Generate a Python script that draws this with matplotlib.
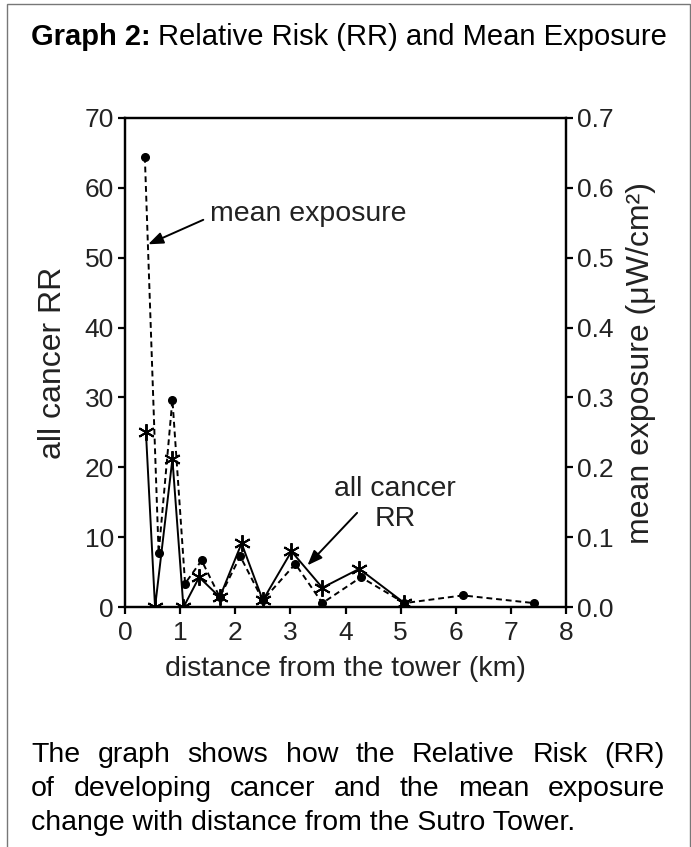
import matplotlib
matplotlib.use("Agg")
import matplotlib.pyplot as plt
from matplotlib.patches import Rectangle

plt.rcParams['font.family'] = ['Liberation Sans', 'DejaVu Sans']

# mean exposure (right axis, uW/cm2)
exp_dist = [0.36, 0.61, 0.86, 1.09, 1.39, 1.72, 2.09, 2.50, 3.09, 3.58, 4.28, 5.07, 6.13, 7.42]
exp_val = [0.644, 0.077, 0.297, 0.034, 0.067, 0.0145, 0.073, 0.010, 0.062, 0.006, 0.043, 0.006, 0.017, 0.006]

# all cancer RR (left axis)
rr_dist = [0.38, 0.545, 0.86, 1.06, 1.345, 1.72, 2.115, 2.50, 3.02, 3.58, 4.25, 5.07]
rr_val = [25.0, 0.0, 21.2, 0.0, 4.3, 1.45, 9.15, 1.0, 8.0, 2.8, 5.5, 0.6]

x_ticks = [0, 1, 2, 3, 4, 5, 6, 7, 8]
rr_ticks = [0, 10, 20, 30, 40, 50, 60, 70]
exp_ticks = [0.0, 0.1, 0.2, 0.3, 0.4, 0.5, 0.6, 0.7]

W, H = 691, 847
fig = plt.figure(figsize=(W / 100, H / 100), dpi=100)

# outer frame
fig.patches.append(Rectangle((6.7 / W, -0.01), (689.5 - 6.7) / W, 1.01 - 4 / H,
                             transform=fig.transFigure, fill=False,
                             edgecolor='#777777', lw=1.0))

ax = fig.add_axes([125 / W, 1 - 607.3 / H, (566 - 125) / W, (607.3 - 117.7) / H])
ax2 = ax.twinx()

ax.plot(rr_dist, rr_val, color='black', lw=1.4, marker=(6, 2, 0),
        markersize=12, markeredgewidth=1.4, zorder=3)
ax2.plot(exp_dist, exp_val, color='black', lw=1.4, ls=(0, (3, 2)),
         marker='o', markersize=5.5, zorder=3)

ax.set_xlim(0, 8)
ax.set_ylim(0, 70)
ax2.set_ylim(0, 0.7)
ax.set_xticks(x_ticks)
ax.set_yticks(rr_ticks)
ax2.set_yticks(exp_ticks)
ax2.set_yticklabels([f"{v:.1f}" for v in exp_ticks])

for a in (ax, ax2):
    for s in a.spines.values():
        s.set_linewidth(1.6)
    a.tick_params(direction='out', length=5, width=1.6, labelsize=19,
                  labelcolor='#222222', pad=3)
ax.tick_params(axis='x', pad=5)

lab_col = '#222222'
ax.set_xlabel("distance from the tower (km)", fontsize=20.5, color=lab_col, va='center')
ax.xaxis.set_label_coords(0.5, -0.125)
ax.set_ylabel("all cancer RR", fontsize=23, color=lab_col, va='center')
ax.yaxis.set_label_coords((53 - 125) / 441, 0.5)
ax2.set_ylabel("mean exposure (μW/cm²)", fontsize=23, color=lab_col, va='center')
ax2.yaxis.set_label_coords((641 - 125) / 441, 0.5)

# annotations
ax.text(1.55, 56.3, "mean exposure", fontsize=20.5, color=lab_col, va='center', ha='left')
ax.annotate('', xy=(0.42, 51.9), xytext=(1.42, 55.4),
            arrowprops=dict(arrowstyle='-|>,head_length=0.9,head_width=0.35',
                            color='black', lw=1.4, shrinkA=0, shrinkB=0))
ax.text(4.9, 14.8, "all cancer\nRR", fontsize=20.5, color=lab_col, va='center',
        ha='center', linespacing=1.2)
ax.annotate('', xy=(3.31, 6.0), xytext=(4.21, 13.5),
            arrowprops=dict(arrowstyle='-|>,head_length=0.9,head_width=0.35',
                            color='black', lw=1.4, shrinkA=0, shrinkB=0))

# title: bold part then regular part
fig.canvas.draw()
renderer = fig.canvas.get_renderer()
title_y = 1 - 45 / H
t1 = fig.text(31 / W, title_y, "Graph 2:", fontsize=21, fontweight='bold',
              va='baseline', ha='left')
bb = t1.get_window_extent(renderer)
fig.text((bb.x1 + 7) / W, title_y, "Relative Risk (RR) and Mean Exposure",
         fontsize=21, va='baseline', ha='left')

# justified caption
lines = ["The graph shows how the Relative Risk (RR)",
         "of developing cancer and the mean exposure",
         "change with distance from the Sutro Tower."]
baselines = [762, 796, 830]
left_px, right_px = 31, 665
cap_size = 20.5
for i, (line, yb) in enumerate(zip(lines, baselines)):
    words = line.split()
    if i == len(lines) - 1:
        fig.text(left_px / W, 1 - yb / H, line, fontsize=cap_size, va='baseline', ha='left')
        continue
    arts = [fig.text(0, 1 - yb / H, w, fontsize=cap_size, va='baseline', ha='left') for w in words]
    widths = [a.get_window_extent(renderer).width for a in arts]
    gap = (right_px - left_px - sum(widths)) / (len(words) - 1)
    x = left_px
    for a, w in zip(arts, widths):
        a.set_x(x / W)
        x += w + gap

fig.savefig("out.png", dpi=100)
